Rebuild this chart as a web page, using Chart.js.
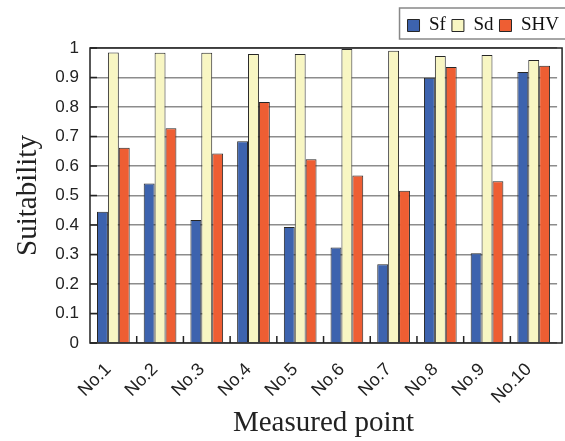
<!DOCTYPE html>
<html>
<head>
<meta charset="utf-8">
<script src="https://cdn.jsdelivr.net/npm/chart.js@4"></script>
<style>
  html, body { margin: 0; padding: 0; background: #fff; }
  #wrap { width: 565px; height: 441px; }
</style>
</head>
<body>
<div id="wrap"><canvas id="chart"></canvas></div>
<script>
const points = ['No.1', 'No.2', 'No.3', 'No.4', 'No.5', 'No.6', 'No.7', 'No.8', 'No.9', 'No.10'];
const sf  = [0.445, 0.541, 0.417, 0.684, 0.393, 0.324, 0.267, 0.899, 0.304, 0.919];
const sd  = [0.985, 0.984, 0.984, 0.980, 0.980, 0.997, 0.991, 0.973, 0.976, 0.959];
const shv = [0.662, 0.728, 0.642, 0.817, 0.623, 0.568, 0.516, 0.936, 0.548, 0.940];

// frame round the plot, inward ticks and a box round the legend
const frame = {
  id: 'frame',
  beforeLayout(chart) {
    const lg = chart.legend;
    if (lg && !lg._tall) {
      const fit = lg.fit.bind(lg);
      lg.fit = function () { fit(); this.height = 38; };
      lg._tall = true;
    }
  },
  afterDraw(chart) {
    const { ctx, chartArea: a, scales } = chart;
    ctx.save();
    ctx.strokeStyle = '#222';
    ctx.lineWidth = 1.5;
    ctx.strokeRect(a.left, a.top, a.right - a.left + 5, a.bottom - a.top);
    // y ticks pointing in
    for (let v = 0; v <= 10; v++) {
      const y = scales.y.getPixelForValue(v / 10);
      ctx.beginPath(); ctx.moveTo(a.left, y); ctx.lineTo(a.left + 7, y); ctx.stroke();
    }
    // x ticks between groups
    for (let i = 1; i < points.length; i++) {
      const x = (scales.x.getPixelForValue(i - 1) + scales.x.getPixelForValue(i)) / 2;
      ctx.beginPath(); ctx.moveTo(x, a.bottom); ctx.lineTo(x, a.bottom - 7); ctx.stroke();
    }
    const hb = chart.legend.legendHitBoxes;
    if (hb && hb.length) {
      ctx.strokeStyle = '#888';
      ctx.lineWidth = 1.5;
      const l = hb[0].left - 8;
      ctx.strokeRect(l, 8, chart.width - l + 5, 31);
    }
    ctx.restore();
  }
};

new Chart(document.getElementById('chart'), {
  type: 'bar',
  data: {
    labels: points,
    datasets: [
      { label: 'Sf', data: sf, backgroundColor: '#3d63ae', borderColor: '#262626', borderWidth: 1 },
      { label: 'Sd', data: sd, backgroundColor: '#f8f6c3', borderColor: '#262626', borderWidth: 1 },
      { label: 'SHV', data: shv, backgroundColor: '#ee5e33', borderColor: '#262626', borderWidth: 1 }
    ]
  },
  options: {
    responsive: true,
    maintainAspectRatio: false,
    animation: false,
    layout: { padding: { top: 10, right: 0, left: 0, bottom: 0 } },
    datasets: { bar: { categoryPercentage: 0.7, barPercentage: 1.0 } },
    plugins: {
      tooltip: { enabled: false },
      legend: {
        position: 'top',
        align: 'end',
        labels: {
          boxWidth: 12,
          boxHeight: 12,
          padding: 6,
          color: '#111',
          font: { family: '"Liberation Serif", "Times New Roman", serif', size: 19 }
        }
      }
    },
    scales: {
      x: {
        grid: { display: false, drawTicks: false },
        border: { display: false },
        afterFit(s) { s.height = 98; },
        ticks: {
          minRotation: 45, maxRotation: 45, padding: 16, labelOffset: -5,
          color: '#222',
          font: { family: '"Liberation Sans", Arial, sans-serif', size: 18 }
        },
        title: {
          display: true, text: 'Measured point', color: '#222',
          padding: { top: 0, bottom: 0 },
          font: { family: '"Liberation Serif", "Times New Roman", serif', size: 29 }
        }
      },
      y: {
        min: 0, max: 1,
        grid: { color: '#8c8c8c', lineWidth: 1.6, drawTicks: false },
        border: { display: false },
        afterFit(s) { s.width = 90; },
        ticks: {
          stepSize: 0.1, padding: 11,
          color: '#222',
          font: { family: '"Liberation Sans", Arial, sans-serif', size: 17 },
          callback: v => String(Number(v.toFixed(1)))
        },
        title: {
          display: true, text: 'Suitability', color: '#222',
          padding: { top: 11, bottom: 0 },
          font: { family: '"Liberation Serif", "Times New Roman", serif', size: 29 }
        }
      }
    }
  },
  plugins: [frame]
});
</script>
</body>
</html>
